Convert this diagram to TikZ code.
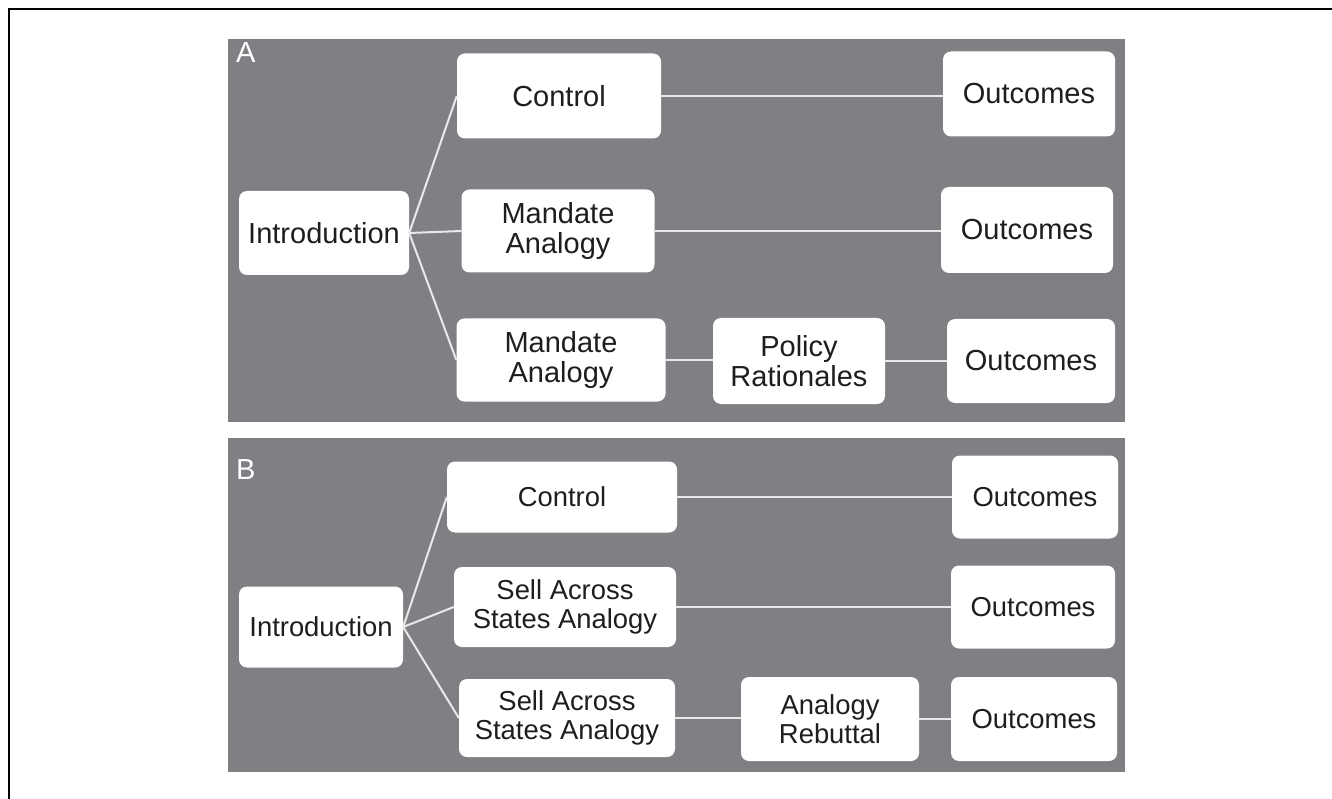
\documentclass[tikz,border=0pt]{standalone}
\usepackage{fontspec}
\setmainfont{Liberation Sans}
\usepackage{tikz}
\definecolor{panelgray}{RGB}{126,128,131}
\definecolor{linkgray}{RGB}{232,233,234}
\definecolor{inkdark}{RGB}{30,30,30}

\begin{document}
\begin{tikzpicture}[x=1pt,y=-1pt,
    panel/.style={fill=panelgray,draw=none},
    box/.style={fill=white,rounded corners=8pt,inner sep=0pt,align=center,
        text=inkdark,font=\fontsize{29}{29.5}\selectfont,minimum height=84pt},
    smallbox/.style={box,font=\fontsize{27.4}{28.5}\selectfont},
    link/.style={draw=linkgray,line width=2pt},
    tag/.style={text=white,font=\fontsize{29}{29}\selectfont,anchor=north west,inner sep=0pt}]
    \useasboundingbox (0,0) rectangle (1332,799);
    \draw[line width=2.4pt] (9,799) -- (9,9) -- (1332,9);

    \fill[panel] (228,39) rectangle (1125,422);
    \fill[panel] (228,438) rectangle (1125,772);
    \node[tag] (tagA) at (236,42) {A};
    \node[tag] (tagB) at (236,459) {B};

    \node[box,minimum width=170pt] (introA) at (324,233) {Introduction};
    \node[box,minimum width=204pt,minimum height=85pt] (ctrlA) at (559,96) {Control};
    \node[box,minimum width=172pt,minimum height=85pt] (outA1) at (1029,94) {Outcomes};
    \node[box,minimum width=193pt,minimum height=83pt] (manA2) at (558,231) {Mandate\\Analogy};
    \node[box,minimum width=172pt,minimum height=86pt] (outA2) at (1027,230) {Outcomes};
    \node[box,minimum width=209pt,minimum height=83pt] (manA3) at (561,360) {Mandate\\Analogy};
    \node[box,minimum width=172pt,minimum height=86pt] (polA) at (799,361) {Policy\\Rationales};
    \node[box,minimum width=168pt] (outA3) at (1031,361) {Outcomes};

    \node[smallbox,minimum width=164pt,minimum height=81pt] (introB) at (321,627) {Introduction};
    \node[smallbox,minimum width=230pt,minimum height=71pt] (ctrlB) at (562,497) {Control};
    \node[smallbox,minimum width=166pt,minimum height=83pt] (outB1) at (1035,497) {Outcomes};
    \node[smallbox,minimum width=222pt,minimum height=80pt] (sasB2) at (565,607) {Sell Across\\States Analogy};
    \node[smallbox,minimum width=164pt,minimum height=83pt] (outB2) at (1033,607) {Outcomes};
    \node[smallbox,minimum width=216pt,minimum height=78pt] (sasB3) at (567,718) {Sell Across\\States Analogy};
    \node[smallbox,minimum width=178pt] (rebB) at (830,719) {Analogy\\Rebuttal};
    \node[smallbox,minimum width=166pt] (outB3) at (1034,719) {Outcomes};

    \foreach \a/\b in {introA/ctrlA,introA/manA2,introA/manA3,
                       introB/ctrlB,introB/sasB2,introB/sasB3}
        \draw[link] (\a.east) -- (\b.west);
    \foreach \a/\b in {ctrlA/outA1,manA2/outA2,manA3/polA,polA/outA3,
                       ctrlB/outB1,sasB2/outB2,sasB3/rebB,rebB/outB3}
        \draw[link] (\a.east) -- (\a.east -| \b.west);
\end{tikzpicture}
\end{document}
